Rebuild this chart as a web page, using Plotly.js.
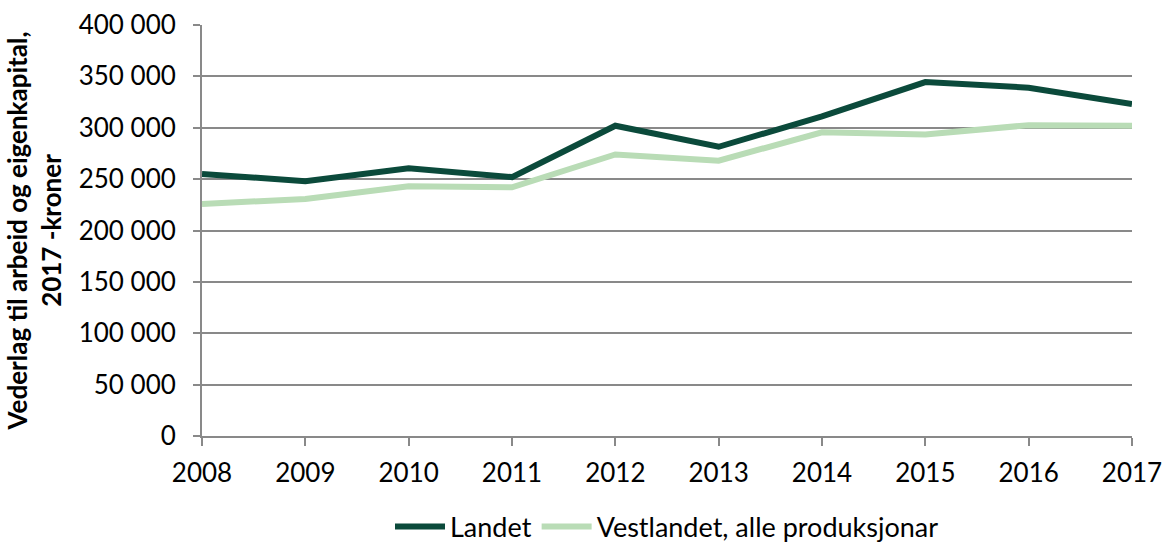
<!DOCTYPE html>
<html>
<head>
<meta charset="utf-8">
<script src="https://cdn.plot.ly/plotly-3.0.1.min.js"></script>
<style>html,body{margin:0;padding:0;background:#fff;}#chart{width:1168px;height:545px;}</style>
</head>
<body>
<div id="chart"></div>
<script>
const years = [2008, 2009, 2010, 2011, 2012, 2013, 2014, 2015, 2016, 2017];
const landet = [255000, 248000, 260500, 252000, 302000, 281500, 311000, 344500, 339000, 323000];
const vestlandet = [225800, 230700, 243000, 242000, 274000, 268000, 295500, 293500, 302500, 302000];
const yTickVals = [0, 50000, 100000, 150000, 200000, 250000, 300000, 350000, 400000];
const yTitle = "Vederlag til arbeid og eigenkapital,<br>2017 -kroner";
const seriesNames = ["Landet", "Vestlandet, alle produksjonar"];

const font = "Lato, 'Open Sans', sans-serif";
const traces = [
  {x: years, y: landet, name: seriesNames[0], type: "scatter", mode: "lines",
   line: {color: "#0b4a3b", width: 6}},
  {x: years, y: vestlandet, name: seriesNames[1], type: "scatter", mode: "lines",
   line: {color: "#b9dcb6", width: 6}}
];
const layout = {
  width: 1168, height: 545,
  margin: {l: 202, r: 36, t: 25, b: 109, autoexpand: false},
  paper_bgcolor: "#fff", plot_bgcolor: "#fff",
  separators: ", ",
  font: {family: font, size: 26, color: "#000"},
  showlegend: true,
  legend: {orientation: "h", x: 0.5, xanchor: "center", y: 0.033, yref: "container", yanchor: "middle",
           font: {family: font, size: 27, color: "#000"}, itemwidth: 50,
           traceorder: "normal"},
  xaxis: {type: "linear", range: [2008, 2017], tickvals: years, ticktext: years.map(String),
          showgrid: false, zeroline: false, showline: true, linecolor: "#898989", linewidth: 2,
          ticks: "outside", ticklen: 8, tickwidth: 2, tickcolor: "#898989",
          ticklabelstandoff: 5, tickfont: {size: 26}},
  yaxis: {range: [0, 400000], tickvals: yTickVals, tickformat: ",d",
          showgrid: true, gridcolor: "#898989", gridwidth: 2, zeroline: false,
          showline: true, linecolor: "#898989", linewidth: 2,
          ticks: "outside", ticklen: 7, tickwidth: 2, tickcolor: "#898989",
          ticklabelstandoff: 12, tickfont: {size: 26},
          title: {text: yTitle, font: {family: font, size: 26, color: "#000", weight: "bold"}, standoff: 10}}
};
Plotly.newPlot("chart", traces, layout, {displayModeBar: false, staticPlot: true});
</script>
</body>
</html>
